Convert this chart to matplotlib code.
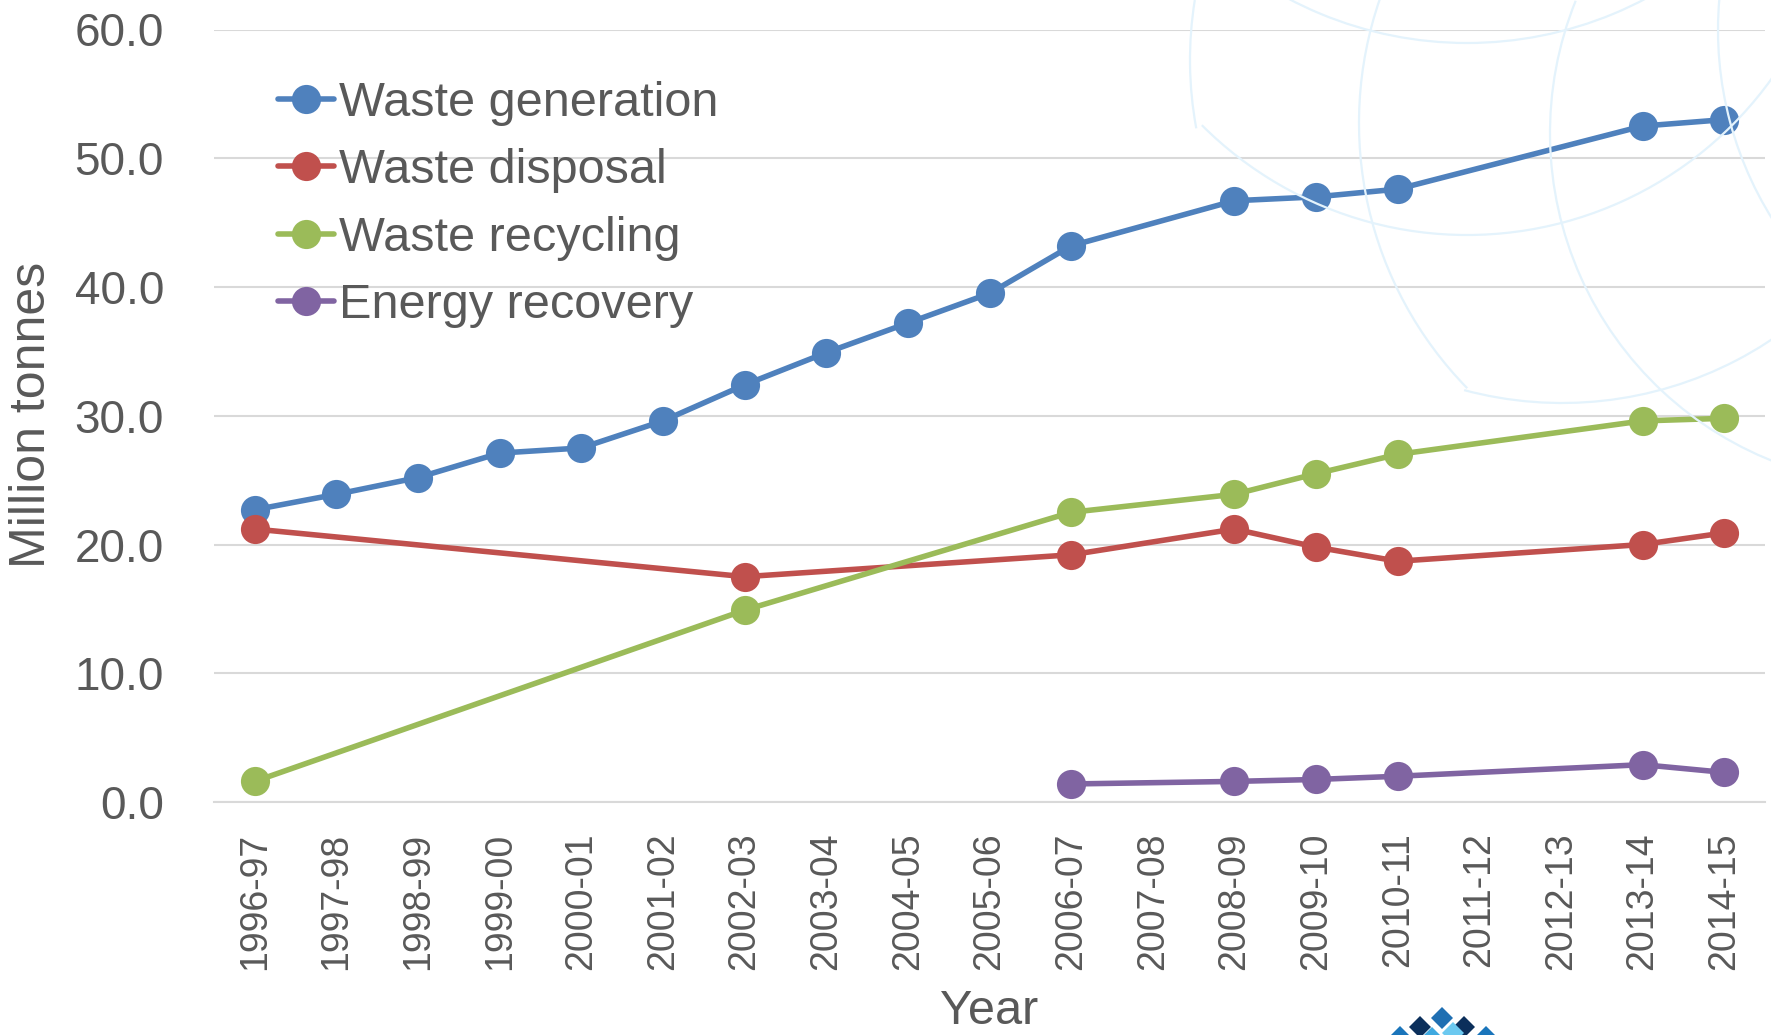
import numpy as np
import matplotlib
matplotlib.use("Agg")
import matplotlib.pyplot as plt
from matplotlib.patches import Arc, Polygon
from matplotlib.transforms import IdentityTransform

plt.rcParams['font.family'] = ['Liberation Sans', 'DejaVu Sans']

years = ['1996-97', '1997-98', '1998-99', '1999-00', '2000-01', '2001-02', '2002-03',
         '2003-04', '2004-05', '2005-06', '2006-07', '2007-08', '2008-09', '2009-10',
         '2010-11', '2011-12', '2012-13', '2013-14', '2014-15']
nan = np.nan
waste_generation = [22.7, 23.9, 25.2, 27.1, 27.5, 29.6, 32.4, 34.9, 37.2, 39.5, 43.2,
                    nan, 46.7, 47.0, 47.6, nan, nan, 52.5, 53.0]
waste_disposal = [21.2, nan, nan, nan, nan, nan, 17.5, nan, nan, nan, 19.2,
                  nan, 21.2, 19.8, 18.7, nan, nan, 20.0, 20.9]
waste_recycling = [1.6, nan, nan, nan, nan, nan, 14.9, nan, nan, nan, 22.5,
                   nan, 23.9, 25.5, 27.0, nan, nan, 29.6, 29.8]
energy_recovery = [nan, nan, nan, nan, nan, nan, nan, nan, nan, nan, 1.4,
                   nan, 1.6, 1.75, 2.0, nan, nan, 2.9, 2.3]

series = [
    ('Waste generation', waste_generation, '#4F81BD'),
    ('Waste disposal', waste_disposal, '#C0504D'),
    ('Waste recycling', waste_recycling, '#9BBB59'),
    ('Energy recovery', energy_recovery, '#8064A2'),
]

W, H = 1771, 1035
fig = plt.figure(figsize=(W / 100, H / 100), dpi=100)
fig.patch.set_facecolor('white')

# faint globe-like watermark in the upper right (pixel coords, y measured from top)
wm = '#E4F3FC'
arcs = [  # cx, cy(from top), r, theta1, theta2 (y-up degrees)
    (1467, -339, 382, 0, 360),
    (1467, -140, 375, -135, -15),
    (1562, 25, 378, -105, -20),
    (1565, 60, 375, 170.8, 190.5),
    (1738, 123, 379, 161, 224.4),
    (1903, 133, 353, 158, 250),
    (2074, 30, 356, 175, 215),
]
for cx, cy, r, t1, t2 in arcs:
    fig.patches.append(Arc((cx, H - cy), 2 * r, 2 * r, theta1=t1, theta2=t2,
                           transform=IdentityTransform(), edgecolor=wm,
                           linewidth=1.6, zorder=0))

# partial logo at the bottom edge
logo = [(1442, 1018, '#1F6FB2'), (1420, 1027, '#0B2F5B'), (1464, 1027, '#0B2F5B'),
        (1453, 1033, '#6CC9F0'), (1400, 1037, '#1A75BB'), (1486, 1037, '#1A75BB'),
        (1432, 1038, '#3FA9E0')]
for cx, cy, c in logo:
    d = 11
    pts = [(cx, H - cy + d), (cx + d, H - cy), (cx, H - cy - d), (cx - d, H - cy)]
    fig.patches.append(Polygon(pts, closed=True, transform=IdentityTransform(),
                               facecolor=c, edgecolor='none', zorder=0))

left, right = 214 / W, 1765 / W
bottom, top = 1 - 802 / H, 1 - 29.5 / H
ax = fig.add_axes([left, bottom, right - left, top - bottom])
ax.set_facecolor('none')

x = np.arange(len(years))
for name, vals, col in series:
    v = np.array(vals, dtype=float)
    m = ~np.isnan(v)
    ax.plot(x[m], v[m], color=col, linewidth=4.0, marker='o', markersize=21,
            markeredgewidth=0, label=name, zorder=3, solid_capstyle='round')

ax.set_xlim(-0.5, len(years) - 0.5)
ax.set_ylim(0, 60)
ax.set_yticks(np.arange(0, 61, 10))
ax.set_yticklabels([f'{t:.1f}' for t in np.arange(0, 61, 10)])
ax.set_xticks(x)
ax.set_xticklabels(years, rotation=90)

ax.grid(axis='y', color='#D9D9D9', linewidth=1.5)
ax.set_axisbelow(True)
for s in ['top', 'right', 'left']:
    ax.spines[s].set_visible(False)
ax.spines['bottom'].set_color('#D9D9D9')
ax.spines['bottom'].set_linewidth(1.5)

txt = '#595959'
ax.tick_params(axis='y', length=0, pad=36, labelsize=33, labelcolor=txt)
ax.tick_params(axis='x', length=0, pad=22, labelsize=27, labelcolor=txt)

fig.text(32 / W, 1 - 415 / H, 'Million tonnes', rotation=90, fontsize=36, color=txt,
         ha='center', va='center')
fig.text(989 / W, 1 - 1024 / H, 'Year', fontsize=35, color=txt, ha='center', va='baseline')

leg = ax.legend(loc='upper left', bbox_to_anchor=(278 / W, 1 - 81 / H),
                bbox_transform=fig.transFigure, frameon=False, fontsize=35,
                handlelength=1.15, handletextpad=0.1, labelspacing=0.46,
                borderpad=0, borderaxespad=0, numpoints=1, markerscale=1.0)
for t in leg.get_texts():
    t.set_color(txt)

fig.savefig('out.png', dpi=100, facecolor='white')
